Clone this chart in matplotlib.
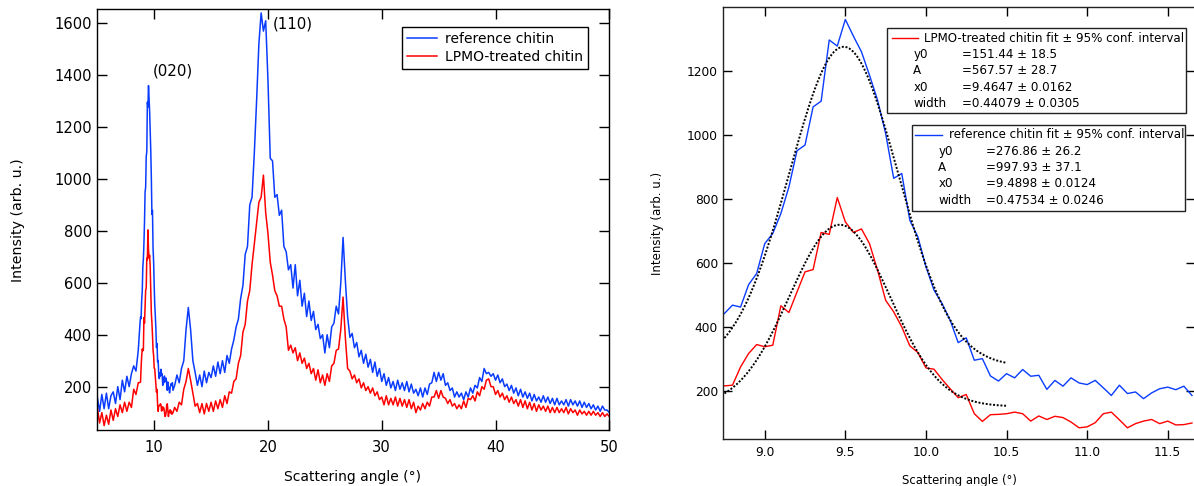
import numpy as np
import matplotlib
matplotlib.use("Agg")
import matplotlib.pyplot as plt
from matplotlib.lines import Line2D
from matplotlib.patches import Rectangle

plt.rcParams['font.family'] = ['DejaVu Sans']

BLUE = '#0a3cff'
RED = '#ff0000'

# ---- zoomed region around the (020) peak, step 0.05 deg ----
zoom_start = 8.75
zoom_step = 0.05
ref_zoom = [442, 468, 462, 532, 567, 660, 692, 754, 837, 950,
            968, 1087, 1105, 1296, 1277, 1360, 1308, 1259, 1186, 1108,
            1004, 864, 879, 733, 681, 588, 515, 473, 421, 351,
            366, 296, 301, 247, 231, 254, 241, 267, 246, 249,
            205, 233, 215, 241, 225, 220, 233, 210, 186, 218,
            192, 197, 176, 194, 207, 212, 204, 215, 186]
lpmo_zoom = [216, 218, 275, 317, 345, 338, 343, 466, 445, 509,
             572, 579, 695, 689, 804, 728, 695, 706, 660, 577,
             483, 447, 400, 341, 320, 272, 268, 236, 207, 179,
             189, 129, 105, 126, 127, 129, 134, 129, 106, 122,
             111, 121, 117, 103, 85, 88, 101, 129, 134, 110,
             85, 98, 106, 111, 98, 106, 94, 95, 100]

# ---- full pattern outside the zoom window, step 0.2 deg ----
low_start = 5.0
ref_low = [160, 105, 170, 115, 175, 115, 165, 180, 135, 200,
           150, 225, 180, 240, 200, 250, 280, 260, 340]
lpmo_low = [120, 60, 100, 50, 90, 55, 110, 70, 115, 85,
            130, 100, 140, 105, 140, 120, 190, 170, 215]

high_start = 11.8
ref_high = [205,
            245, 215, 270, 300, 420,
            505, 420, 300, 255, 205,
            245, 200, 260, 215, 255,
            235, 280, 240, 295, 250,
            300, 255, 320, 290, 345,
            380, 430, 460, 540, 590,
            710, 740, 900, 930, 1100,
            1300, 1520, 1640, 1570, 1610,
            1380, 1080, 1070, 930, 940,
            860, 880, 740, 720, 650,
            670, 580, 670, 550, 610,
            510, 560, 470, 530, 455,
            490, 420, 440, 385, 400,
            330, 400, 350, 430, 445,
            510, 480, 600, 775, 610,
            470, 390, 405, 350, 370,
            315, 340, 290, 325, 275,
            305, 255, 295, 240, 270,
            220, 250, 205, 235, 195,
            220, 185, 225, 190, 215,
            185, 220, 180, 210, 175,
            190, 165, 195, 160, 195,
            170, 210, 215, 255, 220,
            255, 225, 250, 205, 215,
            185, 195, 160, 180, 160,
            175, 150, 180, 160, 195,
            175, 205, 195, 235, 220,
            270, 250, 255, 240, 250,
            225, 245, 215, 230, 200,
            210, 185, 205, 175, 195,
            165, 190, 160, 180, 155,
            175, 145, 170, 145, 160,
            140, 165, 140, 160, 135,
            155, 130, 155, 130, 145,
            130, 150, 125, 150, 130,
            145, 125, 145, 120, 140,
            120, 135, 115, 130, 110,
            125, 105, 125, 110, 110,
            100]
lpmo_high = [120,
             105, 140, 130, 190, 220,
             270, 225, 175, 125, 135,
             100, 135, 95, 135, 105,
             140, 105, 145, 115, 150,
             120, 165, 135, 180, 175,
             220, 230, 290, 320, 410,
             440, 530, 570, 670, 750,
             830, 910, 930, 1015, 870,
             790, 680, 630, 570, 550,
             510, 510, 460, 430, 340,
             360, 330, 350, 300, 330,
             290, 310, 270, 290, 250,
             270, 225, 265, 215, 245,
             205, 250, 220, 280, 290,
             340, 345, 420, 545, 390,
             270, 260, 230, 245, 215,
             230, 195, 215, 185, 200,
             175, 195, 165, 180, 150,
             160, 130, 165, 130, 155,
             130, 160, 125, 155, 125,
             150, 120, 150, 115, 140,
             100, 125, 110, 135, 115,
             140, 125, 160, 160, 185,
             155, 185, 160, 155, 135,
             150, 125, 135, 115, 130,
             115, 145, 120, 155, 150,
             165, 145, 180, 165, 200,
             190, 225, 230, 200, 200,
             170, 185, 160, 175, 150,
             165, 140, 160, 135, 150,
             125, 150, 120, 145, 115,
             140, 110, 135, 105, 130,
             110, 125, 105, 125, 100,
             120, 100, 120, 100, 115,
             100, 120, 95, 115, 100,
             110, 90, 110, 95, 105,
             90, 105, 90, 105, 90,
             100, 85, 100, 85, 95,
             85]

# Gaussian fit results (Igor 'gauss': y0 + A*exp(-((x-x0)/width)^2))
fit_lpmo = {'y0': (151.44, 18.5), 'A': (567.57, 28.7),
            'x0': (9.4647, 0.0162), 'width': (0.44079, 0.0305)}
fit_ref = {'y0': (276.86, 26.2), 'A': (997.93, 37.1),
           'x0': (9.4898, 0.0124), 'width': (0.47534, 0.0246)}
fit_range = (8.75, 10.5)

x_zoom = zoom_start + zoom_step * np.arange(len(ref_zoom))
x_low = low_start + 0.2 * np.arange(len(ref_low))
x_high = high_start + 0.2 * np.arange(len(ref_high))
x_full = np.concatenate([x_low, x_zoom, x_high])
ref_full = np.concatenate([ref_low, ref_zoom, ref_high])
lpmo_full = np.concatenate([lpmo_low, lpmo_zoom, lpmo_high])


def gauss(p, x):
    return p['y0'][0] + p['A'][0] * np.exp(-((x - p['x0'][0]) / p['width'][0]) ** 2)


W, H = 1194, 486
fig = plt.figure(figsize=(W / 100, H / 100), dpi=100)


def fx(px):
    return px / W


def fy(py):
    return 1 - py / H


# ---------------- left panel ----------------
ax1 = fig.add_axes([fx(97.3), fy(430), fx(609.3) - fx(97.3), fy(9.3) - fy(430)])
ax1.plot(x_full, ref_full, color=BLUE, lw=1.1, label='reference chitin')
ax1.plot(x_full, lpmo_full, color=RED, lw=1.1, label='LPMO-treated chitin')
ax1.set_xlim(5, 50)
ax1.set_ylim(33, 1654)
ax1.set_xticks([10, 20, 30, 40, 50])
ax1.set_yticks([200, 400, 600, 800, 1000, 1200, 1400, 1600])
ax1.tick_params(direction='in', length=7.2, width=1, top=True, right=True,
                labelsize=10.6)
ax1.tick_params(axis='x', pad=7)
ax1.tick_params(axis='y', pad=4)
for s in ax1.spines.values():
    s.set_linewidth(1)
ax1.text(11.65, 1416, '(020)', ha='center', va='center', fontsize=10.8)
ax1.text(22.18, 1596, '(110)', ha='center', va='center', fontsize=10.8)
leg = ax1.legend(loc='upper right', bbox_to_anchor=(0.959, 0.9587), fontsize=10,
                 frameon=True, fancybox=False, edgecolor='black', framealpha=1,
                 handlelength=2.2, borderpad=0.35, labelspacing=0.3,
                 handletextpad=0.6, borderaxespad=0)
leg.get_frame().set_linewidth(1)
fig.text(fx(353), fy(477), 'Scattering angle (°)', ha='center', va='center', fontsize=10)
fig.text(fx(18), fy(220), 'Intensity (arb. u.)', ha='center', va='center',
         rotation=90, fontsize=10.2)

# ---------------- right panel ----------------
ax2 = fig.add_axes([fx(723.3), fy(438.7), fx(1195) - fx(723.3), fy(7.3) - fy(438.7)])
ax2.plot(x_zoom, ref_zoom, color=BLUE, lw=1.0)
ax2.plot(x_zoom, lpmo_zoom, color=RED, lw=1.0)
xf = np.linspace(fit_range[0], fit_range[1], 300)
ax2.plot(xf, gauss(fit_ref, xf), color='black', lw=1.4, ls=(0, (1, 0.9)))
ax2.plot(xf, gauss(fit_lpmo, xf), color='black', lw=1.4, ls=(0, (1, 0.9)))
ax2.set_xlim(8.743, 11.669)
ax2.set_ylim(51, 1398)
ax2.set_xticks([9.0, 9.5, 10.0, 10.5, 11.0, 11.5])
ax2.set_xticklabels(['9.0', '9.5', '10.0', '10.5', '11.0', '11.5'])
ax2.set_yticks([200, 400, 600, 800, 1000, 1200])
ax2.tick_params(direction='in', length=6.5, width=1, top=True, right=True,
                labelsize=8.8)
ax2.tick_params(axis='x', pad=5)
ax2.tick_params(axis='y', pad=3.8)
for s in ax2.spines.values():
    s.set_linewidth(1)
    s.set_color('#222222')
fig.text(fx(959), fy(480), 'Scattering angle (°)', ha='center', va='center', fontsize=8.4)
fig.text(fx(657), fy(223), 'Intensity (arb. u.)', ha='center', va='center',
         rotation=90, fontsize=8.5)


def fit_box(left, top, right, bottom, color, title, params, line_x, text_x,
            name_x, val_x, rows_y, title_y):
    fig.add_artist(Rectangle((fx(left), fy(bottom)), fx(right) - fx(left),
                             fy(top) - fy(bottom), transform=fig.transFigure,
                             fill=True, facecolor='white', edgecolor='#222222', lw=1))
    fig.add_artist(Line2D([fx(line_x[0]), fx(line_x[1])], [fy(title_y), fy(title_y)],
                          transform=fig.transFigure, color=color, lw=1.0))
    fig.text(fx(text_x), fy(title_y), title, ha='left', va='center', fontsize=8.6)
    for (name, (val, err)), yy in zip(params.items(), rows_y):
        fig.text(fx(name_x), fy(yy), name, ha='left', va='center', fontsize=8.6)
        fig.text(fx(val_x), fy(yy), '=%g ± %g' % (val, err), ha='left',
                 va='center', fontsize=8.6)


fit_box(887.3, 28.3, 1186, 112.7, RED,
        'LPMO-treated chitin fit ± 95% conf. interval', fit_lpmo,
        (891.7, 918.3), 924.3, 913.3, 961.7, [54.3, 70.7, 87.3, 103.3], 38.3)
fit_box(911.7, 125, 1185, 210.7, BLUE,
        'reference chitin fit ± 95% conf. interval', fit_ref,
        (915, 942.3), 949, 938.3, 986, [151.7, 167.7, 183.3, 200], 135)

fig.savefig('out.png', dpi=100)
